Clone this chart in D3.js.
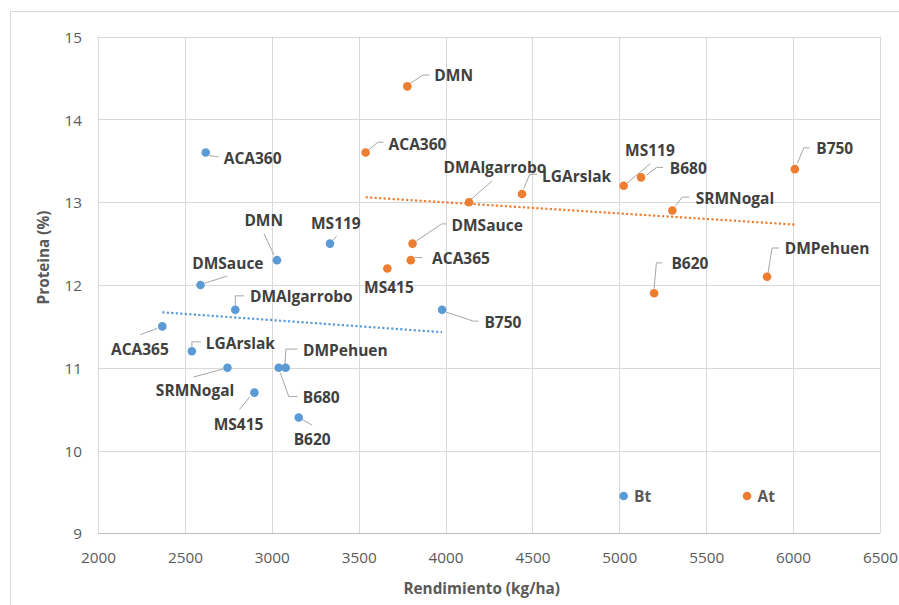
<!DOCTYPE html>
<html>
<head>
<meta charset="utf-8">
<script src="https://cdn.jsdelivr.net/npm/d3@7"></script>
<style>
  html, body { margin: 0; padding: 0; background: #ffffff; }
  svg { display: block; }
</style>
</head>
<body>
<svg id="chart" width="899" height="605"></svg>
<script>
// ---------- DATA ----------
const cultivares = ["ACA360","DMN","MS119","DMSauce","DMAlgarrobo","ACA365","LGArslak","SRMNogal","B680","DMPehuen","MS415","B620","B750"];
// Serie azul (Bt)
const btRendimiento = [2620, 3030, 3335, 2590, 2790, 2370, 2540, 2745, 3040, 3080, 2900, 3155, 3980];
const btProteina    = [13.6, 12.3, 12.5, 12.0, 11.7, 11.5, 11.2, 11.0, 11.0, 11.0, 10.7, 10.4, 11.7];
// Serie naranja (At)
const atRendimiento = [3540, 3780, 5025, 3810, 4135, 3800, 4440, 5305, 5125, 5850, 3665, 5200, 6010];
const atProteina    = [13.6, 14.4, 13.2, 12.5, 13.0, 12.3, 13.1, 12.9, 13.3, 12.1, 12.2, 11.9, 13.4];
// Puntos de leyenda
const leyendaNombres = ["Bt", "At"];
const leyendaRendimiento = [5025, 5735];
const leyendaProteina = [9.45, 9.45];
// Líneas de tendencia (extremos)
const btTendenciaX = [2370, 3980];
const btTendenciaY = [11.67, 11.43];
const atTendenciaX = [3540, 6010];
const atTendenciaY = [13.06, 12.73];
// Ejes
const xTicks = [2000, 2500, 3000, 3500, 4000, 4500, 5000, 5500, 6000, 6500];
const yTicks = [9, 10, 11, 12, 13, 14, 15];
const xTitulo = "Rendimiento (kg/ha)";
const yTitulo = "Proteina (%)";

// ---------- LAYOUT (label offsets in px, relative to the point) ----------
const btLabelLayout = {
  ACA360:      {d:[18, 11],     l:[[4,3],[13,4.3]]},
  DMN:         {d:[-32.6, -34], l:[[-3,-5],[-13,-26.7]]},
  MS119:       {d:[-19, -14.4], l:[[3.3,-3.7],[6.7,-7.7]]},
  DMSauce:     {d:[-8.3, -16.3],l:[[4,-1.7],[26.7,-9]]},
  DMAlgarrobo: {d:[14.7, -7.7], l:[[0,-4],[0,-14],[9,-14]]},
  ACA365:      {d:[-51.3, 29],  l:[[-5.3,2],[-22,8.3]]},
  LGArslak:    {d:[14, -2.3],   l:[[0,-4.3],[0,-9.3],[9,-9.3]]},
  SRMNogal:    {d:[-71.6, 28.7],l:[[-4.6,1.3],[-34,9.3]]},
  B680:        {d:[24, 35.3],   l:[[1.7,5.3],[10,28.7],[19,28.7]]},
  DMPehuen:    {d:[17.3, -11.3],l:[[-0.7,-3],[0.3,-18.7],[11.7,-18.7]]},
  MS415:       {d:[-40.7, 37],  l:[[-4.7,4.3],[-15,17]]},
  B620:        {d:[-5, 27.3],   l:[[3.4,2],[13.4,7.7]]},
  B750:        {d:[42.3, 18.6], l:[[4,2.3],[31.3,11.3],[36.3,11.3]]}
};
const atLabelLayout = {
  ACA360:      {d:[23, -2.3],   l:[[3.3,-3],[12.3,-10.3],[18,-10.3]]},
  DMN:         {d:[27, -5.3],   l:[[3,-3],[15.7,-11.3],[22.3,-11.3]]},
  MS119:       {d:[1.4, -29.3], l:[[3.4,-2.7],[26.7,-22]]},
  DMSauce:     {d:[39, -13],    l:[[4,-2.7],[29,-19.7],[34,-19.7]]},
  DMAlgarrobo: {d:[-25.4, -29], l:[[1.3,-2.3],[23,-21.3]]},
  ACA365:      {d:[21.3, 4],    l:[[4,-2.7],[11.7,-2.7]]},
  LGArslak:    {d:[20, -11.7],  l:[[1.7,-5.4],[7.7,-19.7],[15,-19.7]]},
  SRMNogal:    {d:[23.4, -6.4], l:[[2.7,-4],[10,-13.4],[17,-13.4]]},
  B680:        {d:[28.7, -3],   l:[[5.4,-2.3],[15.4,-10],[22,-10]]},
  DMPehuen:    {d:[17.7, -22.7],l:[[1,-3.7],[5,-28.7],[12,-28.7]]},
  MS415:       {d:[-23.3, 24.4],l:[]},
  B620:        {d:[17.3, -24.7],l:[[0,-4.7],[2.3,-30.4],[8,-30.4]]},
  B750:        {d:[21.4, -15],  l:[[2.4,-5.7],[9,-21.3],[14.7,-21.3]]}
};

// ---------- STYLE ----------
const AZUL = "#5B9BD5", NARANJA = "#ED7D31";
const FONT = "'Open Sans', 'Liberation Sans', sans-serif";

const svg = d3.select("#chart");
// chart frame
svg.append("rect").attr("x", 10.5).attr("y", 11.5).attr("width", 900).attr("height", 600)
  .attr("fill", "#fff").attr("stroke", "#D9D9D9").attr("stroke-width", 1);

const x = d3.scaleLinear().domain([2000, 6500]).range([98, 880]);
const y = d3.scaleLinear().domain([9, 15]).range([533.3, 36.7]);

// gridlines
const grid = svg.append("g");
grid.selectAll("line.v").data(xTicks).join("line")
  .attr("x1", d => Math.round(x(d)) + 0.5).attr("x2", d => Math.round(x(d)) + 0.5)
  .attr("y1", y(15)).attr("y2", y(9))
  .attr("stroke", "#D9D9D9").attr("stroke-width", 1);
grid.selectAll("line.h").data(yTicks).join("line")
  .attr("y1", d => Math.round(y(d)) + 0.5).attr("y2", d => Math.round(y(d)) + 0.5)
  .attr("x1", x(2000)).attr("x2", x(6500))
  .attr("stroke", d => d === 9 ? "#BFBFBF" : "#D9D9D9").attr("stroke-width", 1);

// axes via d3 axis (labels only)
const xAxis = svg.append("g").attr("transform", `translate(0,${y(9)})`)
  .call(d3.axisBottom(x).tickValues(xTicks).tickSize(0).tickPadding(0).tickFormat(d3.format("d")));
xAxis.select(".domain").remove();
xAxis.selectAll("text").attr("dy", null).attr("y", 29.4)
  .attr("font-family", FONT).attr("font-size", "15.3px").attr("fill", "#595959");

const yAxis = svg.append("g").attr("transform", `translate(${x(2000)},0)`)
  .call(d3.axisLeft(y).tickValues(yTicks).tickSize(0).tickPadding(0).tickFormat(d3.format("d")));
yAxis.select(".domain").remove();
yAxis.selectAll("text").attr("dy", null).attr("x", -16).attr("y", 5.6)
  .attr("font-family", FONT).attr("font-size", "15.3px").attr("fill", "#595959");

// axis titles
svg.append("text").attr("x", 481.7).attr("y", 594.3).attr("text-anchor", "middle")
  .attr("font-family", FONT).attr("font-weight", "bold").attr("font-size", "15.3px")
  .attr("fill", "#595959").text(xTitulo);
svg.append("text").attr("transform", "translate(48.5,257.5) rotate(-90)").attr("text-anchor", "middle")
  .attr("font-family", FONT).attr("font-weight", "bold").attr("font-size", "15.3px")
  .attr("fill", "#595959").text(yTitulo);

// trendlines
function trend(xs, ys, color) {
  const pts = xs.map((v, i) => [x(v), y(ys[i])]);
  svg.append("path").attr("d", d3.line()(pts)).attr("fill", "none")
    .attr("stroke", color).attr("stroke-width", 2.2).attr("stroke-dasharray", "2.2,2.3");
}
trend(btTendenciaX, btTendenciaY, AZUL);
trend(atTendenciaX, atTendenciaY, NARANJA);

// series
function serie(xs, ys, names, color, layout) {
  const data = names.map((n, i) => ({n, px: x(xs[i]), py: y(ys[i]), L: layout[n]}));
  const g = svg.append("g");
  g.selectAll("path.lead").data(data.filter(d => d.L.l.length)).join("path")
    .attr("d", d => d3.line()(d.L.l.map(o => [d.px + o[0], d.py + o[1]])))
    .attr("fill", "none").attr("stroke", "#A6A6A6").attr("stroke-width", 1);
  g.selectAll("circle").data(data).join("circle")
    .attr("cx", d => d.px).attr("cy", d => d.py).attr("r", 4.3).attr("fill", color);
  g.selectAll("text").data(data).join("text")
    .attr("x", d => d.px + d.L.d[0]).attr("y", d => d.py + d.L.d[1])
    .attr("font-family", FONT).attr("font-weight", "bold").attr("font-size", "15.5px")
    .attr("fill", "#404040").text(d => d.n);
}
serie(btRendimiento, btProteina, cultivares, AZUL, btLabelLayout);
serie(atRendimiento, atProteina, cultivares, NARANJA, atLabelLayout);

// legend-like points
const legColors = [AZUL, NARANJA];
const lg = svg.append("g");
lg.selectAll("circle").data(leyendaNombres).join("circle")
  .attr("cx", (d, i) => x(leyendaRendimiento[i])).attr("cy", (d, i) => y(leyendaProteina[i]))
  .attr("r", 4.3).attr("fill", (d, i) => legColors[i]);
lg.selectAll("text").data(leyendaNombres).join("text")
  .attr("x", (d, i) => x(leyendaRendimiento[i]) + 10.4).attr("y", (d, i) => y(leyendaProteina[i]) + 6)
  .attr("font-family", FONT).attr("font-weight", "bold").attr("font-size", "15.5px")
  .attr("fill", "#595959").text(d => d);
</script>
</body>
</html>
